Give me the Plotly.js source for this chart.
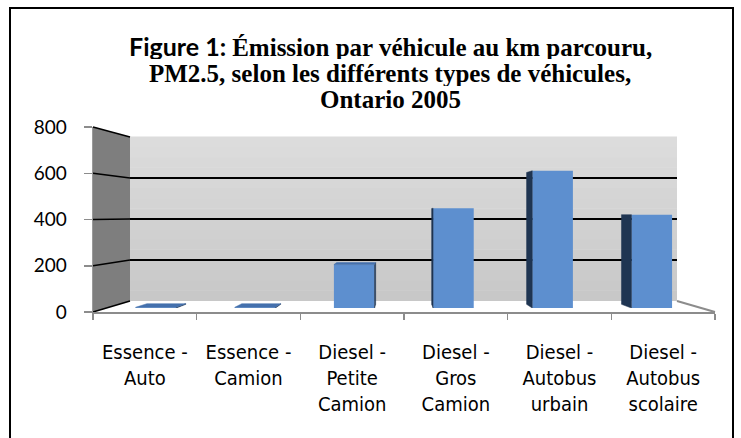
<!DOCTYPE html>
<html><head><meta charset="utf-8">
<script src="https://cdn.plot.ly/plotly-3.0.1.min.js"></script>
<style>html,body{margin:0;padding:0;background:#fff}</style>
</head><body><div id="chart" style="width:741px;height:438px"></div>
<script>
// ---- data ----
const categories = ["Essence -<br>Auto", "Essence -<br>Camion", "Diesel -<br>Petite<br>Camion", "Diesel -<br>Gros<br>Camion", "Diesel -<br>Autobus<br>urbain", "Diesel -<br>Autobus<br>scolaire"];
const emissions = [3, 3, 196, 450, 619, 421];
const yTickValues = [0, 200, 400, 600, 800];
const yMax = 800;
const titleSans = "Figure 1: ";
const titleLine1 = "Émission par véhicule au km parcouru,";
const titleLine2 = "PM2.5, selon les différents types de véhicules,";
const titleLine3 = "Ontario 2005";

// ---- geometry helpers (pixels -> paper) ----
const W = 741, H = 438;
const px = x => x / W, py = y => 1 - y / H;
const FRONT = {L: 93, R: 715, B: 312, T: 127};
const BACK = {L: 130, R: 677, B: 301, T: 137};
const Z0 = 0.36, Z1 = 0.70, BW = 0.41;
const N = categories.length;
function plane(z) {
  return {L: FRONT.L + (BACK.L - FRONT.L) * z, R: FRONT.R + (BACK.R - FRONT.R) * z,
          B: FRONT.B + (BACK.B - FRONT.B) * z, T: FRONT.T + (BACK.T - FRONT.T) * z};
}
function proj(c, v, z) {
  const p = plane(z);
  return [p.L + (c + 0.5) / N * (p.R - p.L), p.B - v / yMax * (p.B - p.T)];
}
const BP = plane(Z0);
function toBar(pt) {
  return [-0.5 + (pt[0] - BP.L) / (BP.R - BP.L) * N, (BP.B - pt[1]) / (BP.B - BP.T) * yMax];
}
function poly(pts, color) {
  const d = pts.map(toBar);
  d.push(d[0]);
  return {type: 'scatter', mode: 'lines', x: d.map(p => p[0]), y: d.map(p => p[1]),
          fill: 'toself', fillcolor: color, line: {width: 0.5, color: color},
          xaxis: 'x3', yaxis: 'y3', hoverinfo: 'skip', showlegend: false};
}

const traces = [];
traces.push({type: 'scatter', x: categories, y: categories.map(() => null), xaxis: 'x2', yaxis: 'y2',
             mode: 'markers', showlegend: false, hoverinfo: 'skip'});
traces.push({type: 'scatter', x: [0], y: [null], xaxis: 'x', yaxis: 'y', mode: 'markers', showlegend: false, hoverinfo: 'skip'});
const idx = emissions.map((_, i) => i);
traces.push({type: 'bar', x: idx, y: emissions, width: BW, xaxis: 'x3', yaxis: 'y3',
             marker: {color: '#5d8fcf', line: {width: 0}}, showlegend: false, hoverinfo: 'y'});
emissions.forEach((v, i) => {
  const l = i - BW / 2, r = i + BW / 2;
  const fl = proj(l, v, Z0), bl = proj(l, v, Z1);
  const fr = proj(r, v, Z0), br = proj(r, v, Z1);
  if (bl[0] < fl[0] - 0.3) traces.push(poly([proj(l, 0, Z0), fl, bl, proj(l, 0, Z1)], '#1f3552'));
  if (br[0] > fr[0] + 0.3) traces.push(poly([proj(r, 0, Z0), fr, br, proj(r, 0, Z1)], '#1f3552'));
  if (bl[1] < fl[1] - 0.3) traces.push(poly([fl, fr, br, bl], '#4571ad'));
});

// ---- static decoration ----
function path(pts) { return 'M' + pts.map(p => px(p[0]) + ',' + py(p[1])).join('L') + 'Z'; }
const shapes = [];
const bands = 16;
for (let k = 0; k < bands; k++) {
  const y0 = BACK.B - (BACK.B - BACK.T) * k / bands, y1 = BACK.B - (BACK.B - BACK.T) * (k + 1) / bands;
  const g = Math.round(0xc8 + (0xdc - 0xc8) * k / (bands - 1));
  shapes.push({type: 'rect', xref: 'paper', yref: 'paper', x0: px(BACK.L), x1: px(BACK.R), y0: py(y0), y1: py(y1) + 0.001,
               fillcolor: `rgb(${g},${g},${g})`, line: {width: 0}, layer: 'below'});
}
shapes.push(
  {type: 'path', xref: 'paper', yref: 'paper', path: path([[FRONT.L, FRONT.T], [BACK.L, BACK.T], [BACK.L, BACK.B], [FRONT.L, FRONT.B]]),
   fillcolor: '#7e7e7e', line: {width: 0}, layer: 'below'},
  {type: 'path', xref: 'paper', yref: 'paper', path: path([[FRONT.L, FRONT.B], [BACK.L, BACK.B], [BACK.R, BACK.B], [FRONT.R, FRONT.B]]),
   fillcolor: '#ffffff', line: {width: 0}, layer: 'below'},
  {type: 'line', xref: 'paper', yref: 'paper', x0: px(BACK.R), y0: py(BACK.B), x1: px(FRONT.R), y1: py(FRONT.B),
   line: {color: '#8c8c8c', width: 2}, layer: 'below'},
  {type: 'rect', xref: 'paper', yref: 'paper', x0: px(10), x1: px(733), y0: py(445), y1: py(8),
   line: {color: '#000', width: 2}, fillcolor: 'rgba(0,0,0,0)'}
);
yTickValues.forEach(v => {
  const yf = FRONT.B - v / yMax * (FRONT.B - FRONT.T);
  const yb = BACK.B - v / yMax * (BACK.B - BACK.T);
  shapes.push({type: 'line', xref: 'paper', yref: 'paper', x0: px(FRONT.L), y0: py(yf), x1: px(BACK.L), y1: py(yb),
               line: {color: '#000', width: 1.6}, layer: 'below'});
});

const serif = 'Liberation Serif, Times New Roman, serif';
const titleFont = {family: serif, size: 25, color: '#000', weight: 'bold'};
const annotations = [
  {text: '<span style="font-family:Lato, sans-serif">' + titleSans + '</span>' + titleLine1, y: py(46)},
  {text: titleLine2, y: py(73)},
  {text: titleLine3, y: py(99)}
].map(a => Object.assign({xref: 'paper', yref: 'paper', x: px(390), xanchor: 'center', yanchor: 'middle',
                          showarrow: false, font: titleFont, height: 26, valign: 'middle'}, a));

const catFont = {family: 'Liberation Sans Narrow, DejaVu Sans Condensed, sans-serif', size: 20, color: '#000'};
const valFont = {family: 'Lato, sans-serif', size: 19, color: '#000'};
const layout = {
  width: W, height: H, margin: {l: 0, r: 0, t: 0, b: 0}, autosize: false,
  paper_bgcolor: '#fff', plot_bgcolor: 'rgba(0,0,0,0)', showlegend: false,
  annotations: annotations,
  xaxis: {domain: [px(BACK.L), px(BACK.R)], range: [0, 1], visible: false, fixedrange: true},
  yaxis: {domain: [py(BACK.B), py(BACK.T)], range: [0, yMax], tickvals: yTickValues, showgrid: true,
          gridcolor: '#000', gridwidth: 1.6, zeroline: false, showticklabels: false, ticks: '', showline: false, fixedrange: true},
  xaxis2: {domain: [px(FRONT.L), px(FRONT.R)], anchor: 'y2', type: 'category', range: [-0.5, N - 0.5],
           tickson: 'boundaries', ticks: 'outside', ticklen: 6, tickcolor: '#8c8c8c', tickwidth: 1.5,
           showline: true, linecolor: '#8c8c8c', linewidth: 2, showgrid: false, zeroline: false,
           tickfont: catFont, ticklabelstandoff: 21, fixedrange: true},
  yaxis2: {domain: [py(FRONT.B), py(FRONT.T)], anchor: 'x2', range: [0, yMax], tickvals: yTickValues,
           ticks: 'outside', ticklen: 8, tickcolor: '#8c8c8c', tickwidth: 1.5, showline: true, linecolor: '#9a9a9a', linewidth: 1.5,
           showgrid: false, zeroline: false, tickfont: valFont, ticklabelstandoff: 13, fixedrange: true},
  xaxis3: {domain: [px(BP.L), px(BP.R)], anchor: 'y3', range: [-0.5, N - 0.5], visible: false, fixedrange: true},
  yaxis3: {domain: [py(BP.B), py(BP.T)], anchor: 'x3', range: [0, yMax], visible: false, fixedrange: true},
  shapes: shapes
};
Plotly.newPlot('chart', traces, layout, {displayModeBar: false, staticPlot: true});
</script></body></html>
